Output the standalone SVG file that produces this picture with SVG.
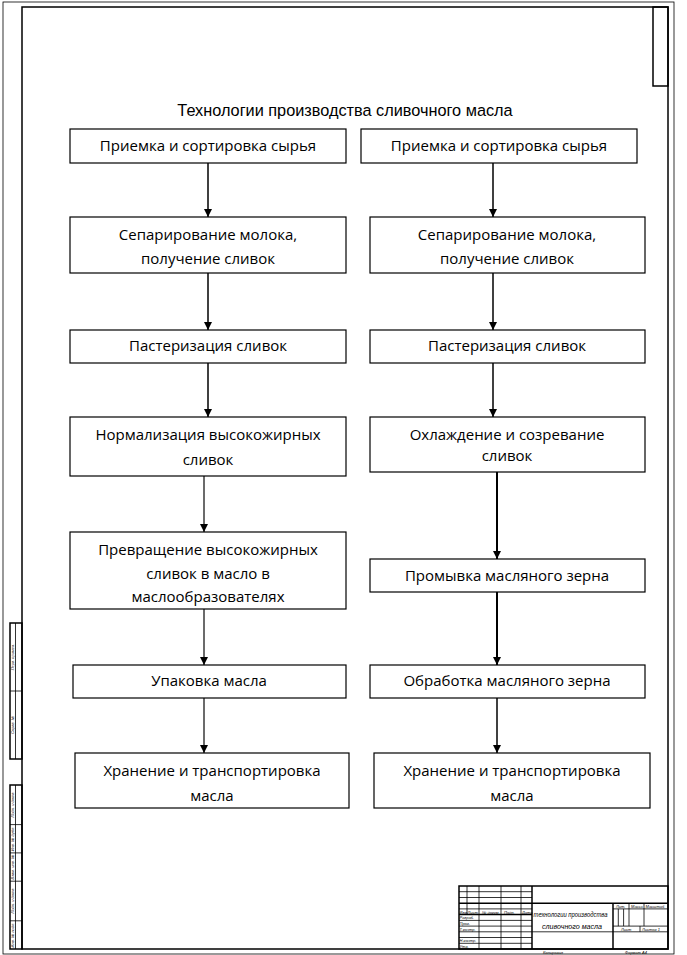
<svg xmlns="http://www.w3.org/2000/svg" width="687" height="955" viewBox="0 0 687 955">
<style>
.frame{fill:none;stroke:#000;stroke-width:1.5}
.thin{fill:none;stroke:#000;stroke-width:0.8}
.box{fill:#fff;stroke:#000;stroke-width:1.2}
.t{font-family:"Open Sans","Noto Sans",sans-serif;font-size:15px;fill:#000;text-anchor:middle}
.title{font-family:"Liberation Sans",Arial,sans-serif;font-size:16.3px;fill:#000;text-anchor:middle}
.tiny{font-family:"Liberation Sans",Arial,sans-serif;font-size:4px;font-style:italic;fill:#000}
.name{font-family:"Liberation Sans",Arial,sans-serif;font-style:italic;fill:#000;text-anchor:middle}
.c{fill:none;stroke:#000;stroke-width:1.5;marker-end:url(#ah)}
.cg{fill:none;stroke:#3a3a3a;stroke-width:1.5;marker-end:url(#ah)}
.cb{fill:none;stroke:#000;stroke-width:2;marker-end:url(#ah)}
</style>
<defs>
<marker id="ah" viewBox="0 0 10 10" refX="10" refY="5" markerWidth="8" markerHeight="8" markerUnits="userSpaceOnUse" orient="auto">
<path d="M0,0 L10,5 L0,10 Z" fill="#000"/>
</marker>
</defs>
<rect width="687" height="955" fill="#fff"/>

<g id="sheet-frame">
<rect x="3" y="2" width="671" height="952" class="thin"/>
<rect x="22" y="7" width="646" height="942" class="frame"/>
<rect x="653" y="7" width="15" height="79" class="frame"/>
</g>

<g id="side-stamp">
<rect x="10" y="623" width="12" height="136" class="frame"/>
<line x1="15.5" y1="623" x2="15.5" y2="759" class="thin"/>
<line x1="10" y1="691" x2="22" y2="691" class="thin"/>
<text class="tiny" text-anchor="middle" transform="translate(14,657) rotate(-90)">Перв. примен.</text>
<text class="tiny" text-anchor="middle" transform="translate(14,725) rotate(-90)">Справ. №</text>
<rect x="10" y="785" width="12" height="164" class="frame"/>
<line x1="15.5" y1="785" x2="15.5" y2="949" class="thin"/>
<line x1="10" y1="824.6" x2="22" y2="824.6" class="thin"/>
<line x1="10" y1="852.9" x2="22" y2="852.9" class="thin"/>
<line x1="10" y1="881.2" x2="22" y2="881.2" class="thin"/>
<line x1="10" y1="920.8" x2="22" y2="920.8" class="thin"/>
<text class="tiny" text-anchor="middle" transform="translate(14,805) rotate(-90)">Подп. и дата</text>
<text class="tiny" text-anchor="middle" transform="translate(14,839) rotate(-90)">Инв. № дубл.</text>
<text class="tiny" text-anchor="middle" transform="translate(14,867) rotate(-90)">Взам. инв. №</text>
<text class="tiny" text-anchor="middle" transform="translate(14,901) rotate(-90)">Подп. и дата</text>
<text class="tiny" text-anchor="middle" transform="translate(14,935) rotate(-90)">Инв. № подл.</text>
</g>

<g id="title-block">
<rect x="459" y="886" width="209" height="63" class="frame"/>
<line x1="459" y1="891.7" x2="532" y2="891.7" class="thin"/>
<line x1="459" y1="897.5" x2="532" y2="897.5" class="thin"/>
<line x1="459" y1="903.2" x2="668" y2="903.2" class="frame"/>
<line x1="459" y1="908.9" x2="532" y2="908.9" class="thin"/>
<line x1="459" y1="914.6" x2="532" y2="914.6" class="frame"/>
<line x1="459" y1="920.4" x2="532" y2="920.4" class="thin"/>
<line x1="459" y1="926.1" x2="532" y2="926.1" class="thin"/>
<line x1="459" y1="931.8" x2="668" y2="931.8" class="thin"/>
<line x1="459" y1="937.5" x2="532" y2="937.5" class="thin"/>
<line x1="459" y1="943.3" x2="532" y2="943.3" class="thin"/>
<line x1="467" y1="886" x2="467" y2="914.6" class="thin"/>
<line x1="479" y1="886" x2="479" y2="949" class="thin"/>
<line x1="501" y1="886" x2="501" y2="949" class="thin"/>
<line x1="521" y1="886" x2="521" y2="949" class="thin"/>
<line x1="532" y1="886" x2="532" y2="949" class="frame"/>
<line x1="613" y1="903.2" x2="613" y2="949" class="frame"/>
<line x1="613" y1="908.9" x2="668" y2="908.9" class="thin"/>
<line x1="613" y1="926.1" x2="668" y2="926.1" class="thin"/>
<line x1="618.3" y1="908.9" x2="618.3" y2="926.1" class="thin"/>
<line x1="623.6" y1="908.9" x2="623.6" y2="926.1" class="thin"/>
<line x1="629" y1="903.2" x2="629" y2="926.1" class="thin"/>
<line x1="644" y1="903.2" x2="644" y2="926.1" class="thin"/>
<line x1="640" y1="926.1" x2="640" y2="931.8" class="thin"/>
<text class="tiny" x="459.5" y="913.5">Изм.</text>
<text class="tiny" x="467.5" y="913.5">Лист</text>
<text class="tiny" x="482" y="913.5">№ докум.</text>
<text class="tiny" x="504" y="913.5">Подп.</text>
<text class="tiny" x="522" y="913.5">Дата</text>
<text class="tiny" x="459.5" y="919.3">Разраб.</text>
<text class="tiny" x="459.5" y="925">Пров.</text>
<text class="tiny" x="459.5" y="930.7">Т.контр.</text>
<text class="tiny" x="459.5" y="942.2">Н.контр.</text>
<text class="tiny" x="459.5" y="948">Утв.</text>
<text class="tiny" x="616" y="907.8">Лит.</text>
<text class="tiny" x="631" y="907.8">Масса</text>
<text class="tiny" x="645.5" y="907.8">Масштаб</text>
<text class="tiny" x="621" y="930.7">Лист</text>
<text class="tiny" x="642" y="930.7">Листов 1</text>
<text class="tiny" x="543" y="954">Копировал</text>
<text class="tiny" x="625" y="954">Формат  А4</text>
<text class="name" x="570.5" y="917" font-size="7" textLength="74" lengthAdjust="spacingAndGlyphs">технологии производства</text>
<text class="name" x="572" y="929" font-size="8" textLength="60" lengthAdjust="spacingAndGlyphs">сливочного масла</text>
</g>

<text id="diagram-title" class="title" x="345" y="116">Технологии производства сливочного масла</text>

<g id="connectors">
<line x1="208" y1="163" x2="208" y2="217" class="c"/>
<line x1="208" y1="273" x2="208" y2="330" class="c"/>
<line x1="208" y1="363" x2="208" y2="417" class="c"/>
<line x1="204" y1="476" x2="204" y2="532" class="cg"/>
<line x1="204" y1="609" x2="204" y2="665" class="cg"/>
<line x1="204" y1="698" x2="204" y2="753" class="cg"/>
<line x1="493" y1="163" x2="493" y2="217" class="c"/>
<line x1="493" y1="273" x2="493" y2="330" class="c"/>
<line x1="493" y1="363" x2="493" y2="417" class="c"/>
<line x1="497" y1="472" x2="497" y2="559" class="cb"/>
<line x1="497" y1="592" x2="497" y2="665" class="cb"/>
<line x1="497" y1="698" x2="497" y2="753" class="c"/>
</g>

<g id="L1"><rect x="70" y="129" width="276" height="34" class="box"/><text class="t" x="208" y="151">Приемка и сортировка сырья</text></g>
<g id="L2"><rect x="70" y="217" width="276" height="56" class="box"/><text class="t" x="208" y="240">Сепарирование молока,</text><text class="t" x="208" y="264">получение сливок</text></g>
<g id="L3"><rect x="70" y="330" width="276" height="33" class="box"/><text class="t" x="208" y="351">Пастеризация сливок</text></g>
<g id="L4"><rect x="70" y="417" width="276" height="59" class="box"/><text class="t" x="208" y="440">Нормализация высокожирных</text><text class="t" x="208" y="465">сливок</text></g>
<g id="L5"><rect x="70" y="532" width="276" height="77" class="box"/><text class="t" x="208" y="555">Превращение высокожирных</text><text class="t" x="208" y="579">сливок в масло в</text><text class="t" x="208" y="602">маслообразователях</text></g>
<g id="L6"><rect x="73" y="665" width="273" height="33" class="box"/><text class="t" x="209" y="686">Упаковка масла</text></g>
<g id="L7"><rect x="75" y="753" width="274" height="55" class="box"/><text class="t" x="212" y="776">Хранение и транспортировка</text><text class="t" x="212" y="801">масла</text></g>

<g id="R1"><rect x="361" y="129" width="276" height="34" class="box"/><text class="t" x="499" y="151">Приемка и сортировка сырья</text></g>
<g id="R2"><rect x="370" y="217" width="275" height="56" class="box"/><text class="t" x="507" y="240">Сепарирование молока,</text><text class="t" x="507" y="264">получение сливок</text></g>
<g id="R3"><rect x="370" y="330" width="275" height="33" class="box"/><text class="t" x="507" y="351">Пастеризация сливок</text></g>
<g id="R4"><rect x="370" y="417" width="275" height="55" class="box"/><text class="t" x="507" y="440">Охлаждение и созревание</text><text class="t" x="507" y="461">сливок</text></g>
<g id="R5"><rect x="370" y="559" width="275" height="33" class="box"/><text class="t" x="507" y="581">Промывка масляного зерна</text></g>
<g id="R6"><rect x="370" y="665" width="275" height="33" class="box"/><text class="t" x="507" y="686">Обработка масляного зерна</text></g>
<g id="R7"><rect x="374" y="753" width="276" height="55" class="box"/><text class="t" x="512" y="776">Хранение и транспортировка</text><text class="t" x="512" y="801">масла</text></g>
</svg>
